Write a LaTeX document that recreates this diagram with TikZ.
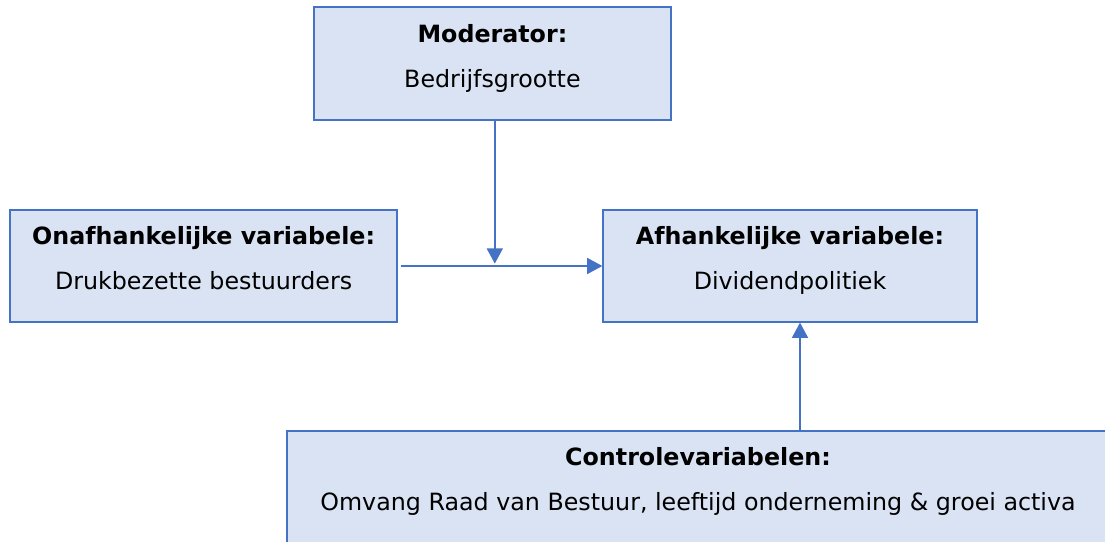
\documentclass[tikz,border=0pt]{standalone}
\usepackage{fontspec}
\setmainfont{DejaVu Sans}
\usetikzlibrary{arrows.meta}
\definecolor{boxfill}{HTML}{DAE3F3}
\definecolor{boxline}{HTML}{4472C4}
\newcommand{\varlines}[2]{\textbf{#1}\\#2\rule[-0.4cm]{0pt}{0pt}}
\tikzstyle{varbox} = [rectangle, draw=boxline, line width=0.9pt, fill=boxfill, minimum height=2.8cm, text centered, align=center, font=\fontsize{16.9}{32}\selectfont]
\tikzstyle{arrow} = [draw=boxline, line width=1.1pt, -{Triangle[length=0.38cm,width=0.4cm]}]

\begin{document}
\begin{tikzpicture}
    \path [use as bounding box, clip] (0,0) rectangle (27.625,-13.55);
    \node [varbox, minimum width=8.925cm, minimum height=2.825cm] at (12.31,-1.59) (mod) {\varlines{Moderator:}{Bedrijfsgrootte}};
    \node [varbox, minimum width=9.675cm] at (5.09,-6.65) (onaf) {\varlines{Onafhankelijke variabele:}{Drukbezette bestuurders}};
    \node [varbox, minimum width=9.35cm] at (19.75,-6.65) (afh) {\varlines{Afhankelijke variabele:}{Dividendpolitiek}};
    \node [varbox, minimum width=20.55cm] at (17.45,-12.175) (ctrl) {\varlines{Controlevariabelen:}{Omvang Raad van Bestuur, leeftijd onderneming \& groei activa}};
    \coordinate (join) at ([xshift=0.06cm]mod.south |- onaf.east);

    \draw [arrow, shorten <=0.075cm] (onaf.east) -- (afh.west);
    \draw [arrow, shorten >=0.06cm] ([xshift=0.06cm]mod.south) -- (join);
    \draw [arrow] ([xshift=0.25cm]afh.south |- ctrl.north) -- ([xshift=0.25cm]afh.south);
\end{tikzpicture}
\end{document}
